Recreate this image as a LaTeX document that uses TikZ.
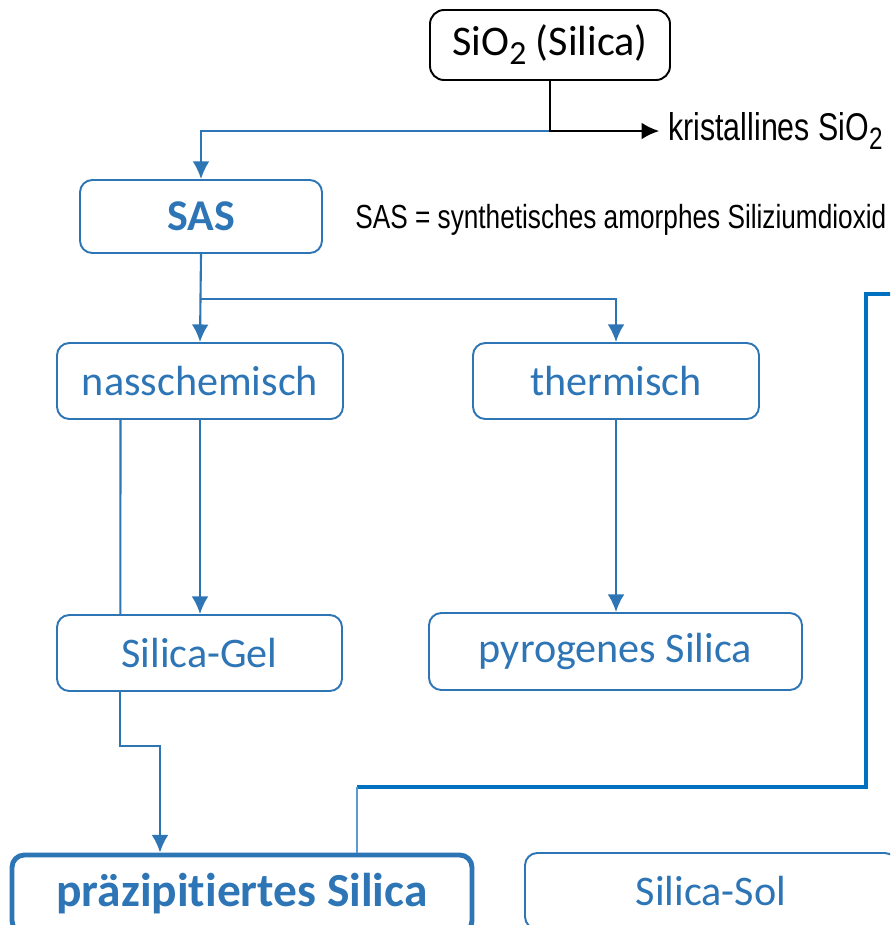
\documentclass[tikz,border=0pt]{standalone}
\usepackage{fontspec}
\setmainfont{Carlito}[Ligatures=NoCommon]
\newfontfamily\schmalfont{Liberation Sans}[FakeStretch=0.785]
\usetikzlibrary{positioning}
\usetikzlibrary{calc}
\usetikzlibrary{arrows.meta}
\definecolor{sasblau}{RGB}{46,117,182}
\definecolor{linieblau}{RGB}{0,112,192}
\definecolor{hellblau}{RGB}{91,155,213}
\newcommand{\boxschrift}{\fontsize{24}{28}\selectfont}
\newcommand{\tiefzwei}{\raisebox{-0.45ex}{\scalebox{0.8}{2}}}
\tikzset{
	stoff/.style={draw, rectangle, rounded corners=8pt, line width=1.1pt, minimum height=1.4cm, font=\boxschrift},
	stufe/.style={draw=sasblau, text=sasblau, rectangle, rounded corners=7pt, line width=1.1pt, minimum height=1.52cm, font=\boxschrift},
	ziel/.style={stufe, line width=2.8pt, font=\fontsize{27}{32}\selectfont\bfseries},
	% erklaerende Texte ohne Rahmen
	notiz/.style={inner sep=0pt, anchor=west, font=\schmalfont},
}

\begin{document}
\begin{tikzpicture}
	\useasboundingbox (0,0) rectangle (17.8,-18.5);
	\clip (0,0) rectangle (17.8,-18.5);
	
	\node (sio) [stoff, minimum width=4.8cm] at (11.0,-0.9) {SiO\tiefzwei{} (Silica)};
	\node (krist) [notiz, font=\schmalfont\fontsize{22}{26}\selectfont] at (13.36,-2.62) {kristallines SiO\tiefzwei};
	
	\node (sas) [stufe, minimum width=4.84cm, minimum height=1.46cm, font=\fontsize{25}{29}\selectfont\bfseries] at (4.02,-4.33) {SAS};
	\node (erkl) [notiz, font=\schmalfont\fontsize{19}{23}\selectfont] at (7.1,-4.4) {SAS = synthetisches amorphes Siliziumdioxid};
	
	\node (nass) [stufe, minimum width=5.72cm] at (4.0,-7.62) {nasschemisch};
	\node (therm) [stufe, minimum width=5.72cm] at (12.32,-7.62) {thermisch};
	
	\node (gel) [stufe, minimum width=5.7cm] at (3.99,-13.06) {Silica-Gel};
	\node (pyro) [stufe, minimum width=7.46cm, minimum height=1.54cm] at (12.31,-13.03) {pyrogenes Silica};
	
	\node (praez) [ziel, minimum width=9.2cm, minimum height=1.56cm] at (4.84,-17.88) {pr\"azipitiertes Silica};
	\node (sol) [stufe, minimum width=7.44cm] at (14.22,-17.82) {Silica-Sol};
	
	\coordinate (abzw1) at ($(sio.south)+(0,-1.0)$);
	\coordinate (abzw2) at ($(sas.south)+(0,-0.9)$);
	\coordinate (nassfuss) at ($(nass.south west)!0.224!(nass.south east)$);
	\coordinate (gelkopf) at ($(gel.north west)!0.224!(gel.north east)$);
	\coordinate (gelfuss) at ($(gel.south west)!0.224!(gel.south east)$);
	\coordinate (knick) at (3.2,-14.92);
	\coordinate (rand) at (18.2,-5.88);
	\coordinate (ecke) at (17.32,-5.88);
	\coordinate (quer) at (7.14,-15.74);
	
	\begin{scope}[line width=1.2pt, sasblau, -{Latex[length=10pt,width=9.5pt]}]
		\draw (abzw1) -| (sas.north);
		\draw (sas.south) -- (nass.north);
		\draw (abzw2) -| (therm.north);
		\draw (nass.south) -- (nass.south |- gel.north);
		\draw (therm.south) -- (therm.south |- pyro.north);
		\draw (gelfuss) |- (knick) -- (knick |- praez.north);
	\end{scope}
	\draw [line width=1.2pt, sasblau] (nassfuss) -- (gelkopf);
	\draw [line width=1.2pt, black, -{Latex[length=10pt,width=9.5pt]}] (sio.south) |- ([xshift=-5pt]krist.west);
	
	\draw [line width=2.4pt, linieblau] (rand) -- (ecke) |- (quer);
	\draw [line width=1.2pt, hellblau] (quer) -- (quer |- praez.north);
	
\end{tikzpicture}
\end{document}
